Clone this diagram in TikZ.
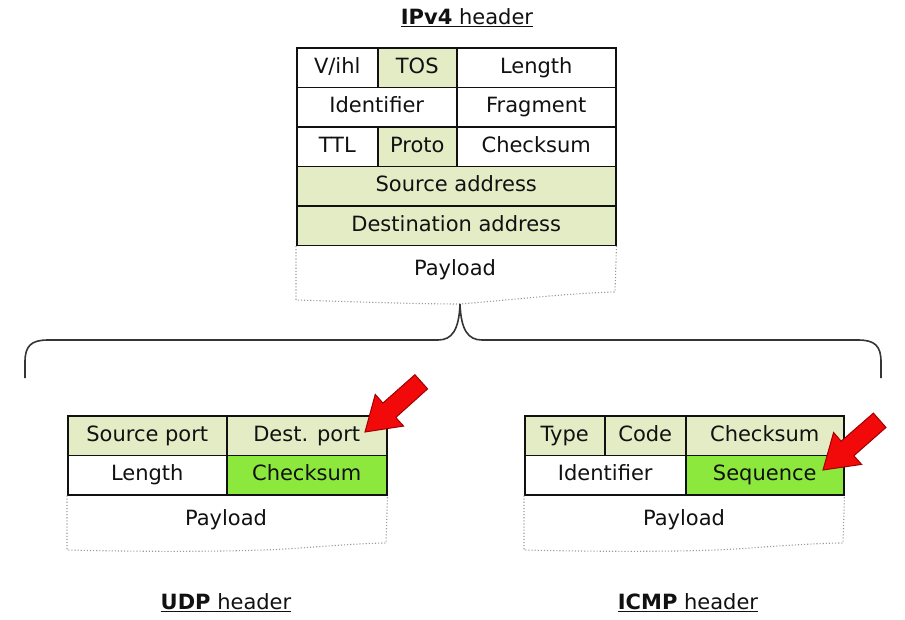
\documentclass[tikz,border=0pt]{standalone}
\usepackage{fontspec}
\setmainfont{DejaVu Sans}
\usetikzlibrary{calc}
\definecolor{pale}{HTML}{E4ECC6}
\definecolor{bright}{HTML}{8CE83C}
\definecolor{arrowred}{HTML}{F20A0A}
\definecolor{arrowdark}{HTML}{A00000}
\definecolor{ink}{HTML}{111111}
\tikzset{
  cell/.style={draw=ink, line width=1.5pt, inner sep=0pt, minimum height=39.5pt, text=ink,
    font=\fontsize{21}{24}\selectfont, text height=15pt, text depth=4pt, anchor=north west},
  palecell/.style={cell, fill=pale},
  brightcell/.style={cell, fill=bright},
  paytext/.style={text=ink, font=\fontsize{21}{24}\selectfont},
  payedge/.style={draw=gray!80, dotted, line width=1.1pt},
  title/.style={text=ink, font=\fontsize{21}{24}\selectfont},
  brace/.style={draw=ink!85, line width=1.6pt},
}
\newcommand\redarrow[2]{%
  \fill[arrowred, draw=arrowdark, line width=1pt, line join=miter]
    (#1) -- ($(#1)!39pt!33:(#2)$) -- ($(#1)!34pt!16.5:(#2)$) --
    ($(#1)!76pt!7.2:(#2)$) -- ($(#1)!76pt!-7.2:(#2)$) --
    ($(#1)!34pt!-16.5:(#2)$) -- ($(#1)!39pt!-33:(#2)$) -- cycle;}
\begin{document}
\begin{tikzpicture}[x=1pt,y=-1pt]
\useasboundingbox[fill=white] (0,0) rectangle (905,619);

% ---------- IPv4 ----------
\node[title] (iptitle) at (467,18) {\underline{\textbf{IPv4} header}};
\node[cell, minimum width=81pt] (vihl) at (296,47) {V/ihl};
\node[palecell, minimum width=79pt] (tos) at (377,47) {TOS};
\node[cell, minimum width=159pt] (len) at (456,47) {Length};
\node[cell, minimum width=160pt] (ident) at (296,86.5) {Identifier};
\node[cell, minimum width=159pt] (frag) at (456,86.5) {Fragment};
\node[cell, minimum width=81pt] (ttl) at (296,126) {TTL};
\node[palecell, minimum width=79pt] (proto) at (377,126) {Proto};
\node[cell, minimum width=159pt] (cks) at (456,126) {Checksum};
\node[palecell, minimum width=319pt] (src) at (296,165.5) {Source address};
\node[palecell, minimum width=319pt] (dst) at (296,205) {Destination address};
\node[paytext] (ippay) at (455,270) {Payload};
\coordinate (tip) at (460,304);
\draw[payedge] (dst.south west) -- (296,300) .. controls (360,302) and (420,304) .. (tip)
  .. controls (510,300) and (570,293) .. (615,292) -- (dst.south east);

% ---------- brace ----------
\coordinate (bl) at (25,378);
\coordinate (br) at (881,378);
\draw[brace] (bl) -- (25,362) .. controls (25,346) and (31,340) .. (48,340) -- (438,340)
  .. controls (452,340) and (459,330) .. (tip)
  .. controls (461,330) and (468,340) .. (482,340) -- (858,340)
  .. controls (875,340) and (881,346) .. (881,362) -- (br);

% ---------- UDP ----------
\node[palecell, minimum width=159pt] (sport) at (67,415) {Source port};
\node[palecell, minimum width=160pt] (dport) at (226,415) {Dest. port};
\node[cell, minimum width=159pt] (ulen) at (67,454.5) {Length};
\node[brightcell, minimum width=160pt] (ucks) at (226,454.5) {Checksum};
\node[paytext] (udppay) at (226,520) {Payload};
\draw[payedge] (ulen.south west) -- (67,550) .. controls (150,552) and (250,552) .. (300,548)
  .. controls (340,545) and (370,543) .. (386,543) -- (ucks.south east);
\node[title] (udptitle) at (226,603) {\underline{\textbf{UDP} header}};

% ---------- ICMP ----------
\node[palecell, minimum width=80pt] (type) at (524,415) {Type};
\node[palecell, minimum width=81pt] (code) at (604,415) {Code};
\node[palecell, minimum width=158pt] (icks) at (685,415) {Checksum};
\node[cell, minimum width=161pt] (iid) at (524,454.5) {Identifier};
\node[brightcell, minimum width=158pt] (seq) at (685,454.5) {Sequence};
\node[paytext] (icmppay) at (684,520) {Payload};
\draw[payedge] (iid.south west) -- (524,550) .. controls (610,552) and (700,552) .. (750,548)
  .. controls (790,545) and (825,543) .. (843,543) -- (seq.south east);
\node[title] (icmptitle) at (688,603) {\underline{\textbf{ICMP} header}};

% ---------- red arrows ----------
\coordinate (udptip) at (365,432);
\coordinate (udptail) at (421,382);
\coordinate (icmptip) at (823,470);
\coordinate (icmptail) at (880,420);
\redarrow{udptip}{udptail}
\redarrow{icmptip}{icmptail}
\end{tikzpicture}
\end{document}
